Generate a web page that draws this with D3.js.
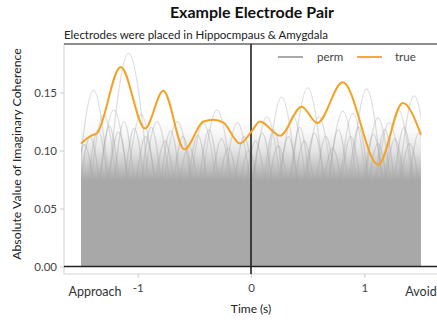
<!DOCTYPE html>
<html>
<head>
<meta charset="utf-8">
<script src="https://cdn.jsdelivr.net/npm/d3@7"></script>
<style>
  body { margin: 0; background: #fff; }
  svg { font-family: Lato, 'Open Sans', sans-serif; }
</style>
</head>
<body>
<svg id="coherence" width="437" height="325"></svg>
<script>
// observed coherence (true pairing), knots along time in seconds
const trueTimes = [-1.5, -1.41, -1.36, -1.15, -0.935, -0.774, -0.588, -0.42, -0.33, -0.245, -0.097, 0.006, 0.079, 0.256, 0.447, 0.585, 0.809, 1.124, 1.339, 1.5];
const trueValues = [0.106, 0.1128, 0.1148, 0.172, 0.119, 0.1516, 0.101, 0.125, 0.1266, 0.1243, 0.106, 0.1166, 0.125, 0.1128, 0.1378, 0.1237, 0.1588, 0.0878, 0.141, 0.1136];

// permutation peaks that rise clear of the bulk: [peak time, peak value, half width]
const permHighPeaks = [
  [-1.39, 0.152, 0.16], [-1.08, 0.184, 0.2], [-1.21, 0.135, 0.15], [-1.30, 0.131, 0.14],
  [-0.97, 0.131, 0.15], [-0.83, 0.125, 0.14], [-0.65, 0.125, 0.15], [-0.42, 0.124, 0.14],
  [-0.30, 0.135, 0.16], [-0.12, 0.124, 0.14], [0.14, 0.129, 0.15], [0.27, 0.146, 0.16],
  [0.37, 0.130, 0.14], [0.50, 0.154, 0.17], [0.60, 0.129, 0.14], [0.81, 0.134, 0.15],
  [1.02, 0.153, 0.16], [1.22, 0.124, 0.14], [1.30, 0.135, 0.15], [1.44, 0.147, 0.16],
  [0.90, 0.132, 0.14], [1.12, 0.128, 0.14]
];

// permutation peaks inside the dense band
const permMidPeaks = [
  [-1.47, 0.105], [-1.42, 0.112], [-1.35, 0.118], [-1.25, 0.121], [-1.17, 0.116], [-1.12, 0.125],
  [-1.03, 0.119], [-0.93, 0.112], [-0.88, 0.120], [-0.76, 0.108], [-0.71, 0.117], [-0.60, 0.112],
  [-0.55, 0.104], [-0.47, 0.113], [-0.37, 0.118], [-0.26, 0.110], [-0.20, 0.102], [-0.06, 0.112],
  [-0.02, 0.100], [0.04, 0.108], [0.10, 0.115], [0.20, 0.118], [0.24, 0.104], [0.33, 0.112],
  [0.43, 0.120], [0.47, 0.108], [0.56, 0.115], [0.66, 0.112], [0.72, 0.102], [0.77, 0.118],
  [0.88, 0.112], [0.95, 0.120], [1.08, 0.114], [1.12, 0.106], [1.18, 0.118], [1.27, 0.110],
  [1.35, 0.120], [1.40, 0.106], [1.48, 0.115]
];
const permMidWidth = 0.11;
const permBase = 0.05;

// density of the permutation bulk: [value, opacity]
const permDensity = [[0, 1], [0.074, 1], [0.085, 0.7], [0.1, 0.3], [0.115, 0.08], [0.13, 0]];

const timeExtent = [-1.5, 1.5];
const yTicks = [0, 0.05, 0.1, 0.15];
const xTicks = [-1, 0, 1];
const endLabels = ['Approach', 'Avoid'];

const svg = d3.select('#coherence');

const x = d3.scaleLinear().domain(timeExtent).range([81, 421]);
const y = d3.scaleLinear().domain([0, 0.15]).range([266.5, 92.5]);

const panel = { left: x(-1.65), right: x(1.66), top: 44, bottom: 274 };

// panel frame
svg.append('rect')
  .attr('x', panel.left)
  .attr('y', panel.top)
  .attr('width', panel.right - panel.left)
  .attr('height', panel.bottom - panel.top)
  .attr('fill', '#fff')
  .attr('stroke', '#d4d4d4')
  .attr('stroke-width', 1);

svg.append('line')
  .attr('x1', panel.left).attr('x2', panel.right)
  .attr('y1', panel.top).attr('y2', panel.top)
  .style('stroke', '#333')
  .style('stroke-width', 1.2);

// clip everything to the time range
const defs = svg.append('defs');
defs.append('clipPath')
  .attr('id', 'time-clip')
  .append('rect')
  .attr('x', x(timeExtent[0]))
  .attr('y', panel.top)
  .attr('width', x(timeExtent[1]) - x(timeExtent[0]))
  .attr('height', panel.bottom - panel.top);

const grad = defs.append('linearGradient')
  .attr('id', 'perm-density')
  .attr('gradientUnits', 'userSpaceOnUse')
  .attr('x1', 0).attr('x2', 0)
  .attr('y1', y(0)).attr('y2', y(0.13));
grad.selectAll('stop')
  .data(permDensity)
  .enter()
  .append('stop')
  .attr('offset', d => d[0] / 0.13)
  .attr('stop-color', '#a8a8a8')
  .attr('stop-opacity', d => d[1]);

const g = svg.append('g').attr('clip-path', 'url(#time-clip)');

const arcLine = d3.line()
  .x(d => x(d[0]))
  .y(d => y(d[1]))
  .curve(d3.curveMonotoneX);

function arcKnots(t, v, w) {
  return [[t - w, permBase], [t, v], [t + w, permBase]];
}

// individual permutation lines, then the dense bulk over their lower parts
g.append('g')
  .attr('class', 'perm-mid')
  .selectAll('path')
  .data(permMidPeaks)
  .enter()
  .append('path')
  .attr('d', d => arcLine(arcKnots(d[0], d[1], permMidWidth)))
  .attr('fill', 'none')
  .style('stroke', '#999')
  .style('stroke-opacity', 0.35)
  .style('stroke-width', 1.2);

g.append('g')
  .attr('class', 'perm-high')
  .selectAll('path')
  .data(permHighPeaks)
  .enter()
  .append('path')
  .attr('d', d => arcLine(arcKnots(d[0], d[1], d[2])))
  .attr('fill', 'none')
  .style('stroke', '#999')
  .style('stroke-opacity', 0.3)
  .style('stroke-width', 1.3);

g.append('rect')
  .attr('x', x(timeExtent[0]))
  .attr('y', y(0.13))
  .attr('width', x(timeExtent[1]) - x(timeExtent[0]))
  .attr('height', y(0) - y(0.13))
  .attr('fill', 'url(#perm-density)');

// reference lines at zero
svg.append('line')
  .attr('x1', panel.left).attr('x2', panel.right)
  .attr('y1', y(0)).attr('y2', y(0))
  .style('stroke', '#222')
  .style('stroke-width', 1.6);

svg.append('line')
  .attr('x1', x(0)).attr('x2', x(0))
  .attr('y1', panel.top).attr('y2', panel.bottom)
  .style('stroke', '#222')
  .style('stroke-width', 1.6);

// true coherence
const trueLine = d3.line()
  .x((d, i) => x(trueTimes[i]))
  .y(d => y(d))
  .curve(d3.curveMonotoneX);

svg.append('path')
  .datum(trueValues)
  .attr('d', trueLine)
  .attr('fill', 'none')
  .style('stroke', '#f2a324')
  .style('stroke-width', 2);

// axes
const yAxis = svg.append('g')
  .attr('transform', `translate(${panel.left},0)`)
  .call(d3.axisLeft(y).tickValues(yTicks).tickFormat(d3.format('.2f')).tickSize(4).tickPadding(3));
const xAxis = svg.append('g')
  .attr('transform', `translate(0,${panel.bottom})`)
  .call(d3.axisBottom(x).tickValues(xTicks).tickFormat(d => String(d)).tickSize(4).tickPadding(6));

[yAxis, xAxis].forEach(ax => {
  ax.select('.domain').remove();
  ax.selectAll('line').style('stroke', '#ccc');
  ax.selectAll('text')
    .style('font-size', '11.5px')
    .style('fill', '#444')
    .style('font-family', 'Lato, sans-serif');
});
yAxis.selectAll('text').attr('dy', '0.35em');

svg.selectAll('.end-label')
  .data(endLabels)
  .enter()
  .append('text')
  .attr('class', 'end-label')
  .attr('x', (d, i) => i === 0 ? x(timeExtent[0]) + 14 : x(timeExtent[1]))
  .attr('y', 296)
  .attr('text-anchor', 'middle')
  .style('font-size', '12.5px')
  .style('fill', '#333')
  .text(d => d);

// titles
svg.append('text')
  .attr('x', 252)
  .attr('y', 18)
  .attr('text-anchor', 'middle')
  .style('font-size', '16px')
  .style('font-weight', 'bold')
  .style('fill', '#111')
  .text('Example Electrode Pair');

svg.append('text')
  .attr('x', 64)
  .attr('y', 39)
  .style('font-size', '11.5px')
  .style('fill', '#222')
  .text('Electrodes were placed in Hippocmpaus & Amygdala');

svg.append('text')
  .attr('x', x(0))
  .attr('y', 313)
  .attr('text-anchor', 'middle')
  .style('font-size', '12px')
  .style('fill', '#222')
  .text('Time (s)');

svg.append('text')
  .attr('transform', 'translate(21,154) rotate(-90)')
  .attr('text-anchor', 'middle')
  .style('font-size', '12.3px')
  .style('fill', '#222')
  .text('Absolute Value of Imaginary Coherence');

// legend
const legend = svg.append('g').attr('class', 'legend');
const legendItems = [
  { key: 'perm', color: '#a0a0a0', x: 278 },
  { key: 'true', color: '#f2a324', x: 357 }
];
const item = legend.selectAll('g')
  .data(legendItems)
  .enter()
  .append('g')
  .attr('transform', d => `translate(${d.x},57)`);
item.append('line')
  .attr('x1', 0).attr('x2', 25)
  .style('stroke', d => d.color)
  .style('stroke-width', 1.8);
item.append('text')
  .attr('x', (d, i) => i === 0 ? 39 : 38)
  .attr('y', 4)
  .style('font-size', '11.5px')
  .style('fill', '#444')
  .text(d => d.key);
</script>
</body>
</html>
